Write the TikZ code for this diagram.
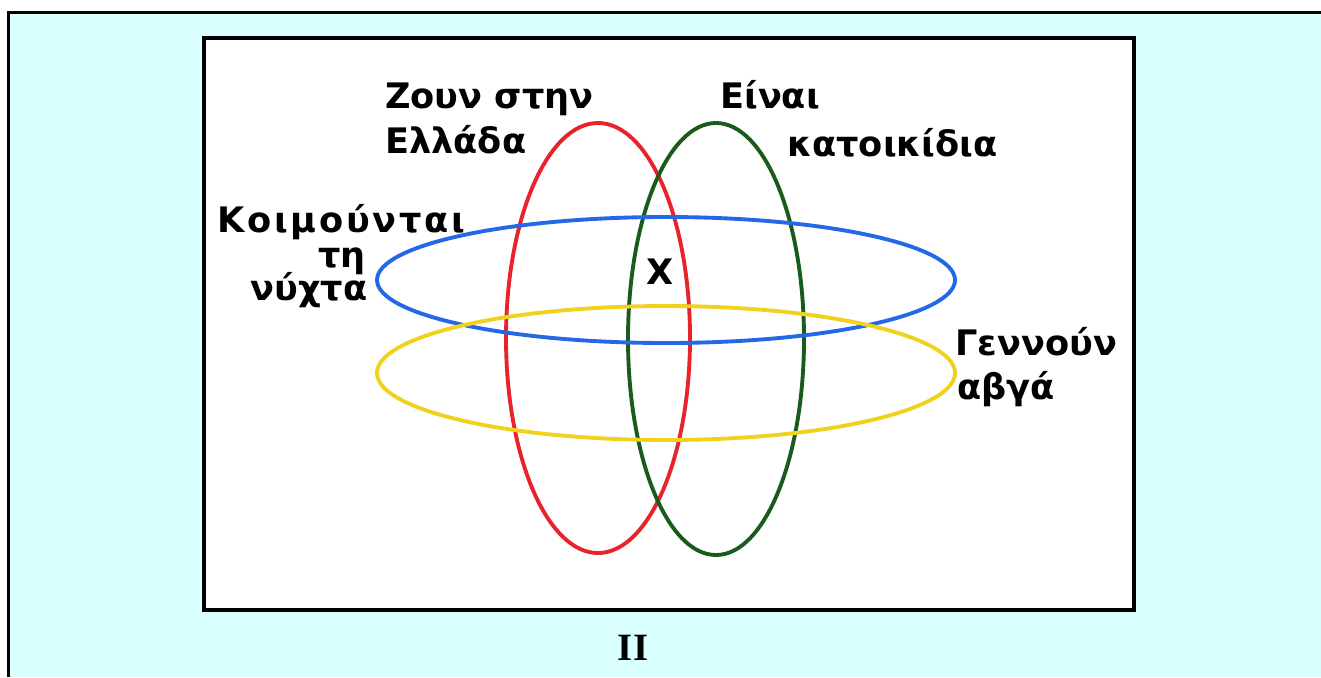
\documentclass[tikz,border=0pt]{standalone}
\usepackage{fontspec}
\setmainfont{DejaVu Sans}
\newfontfamily\romanfont{Liberation Serif}
\usepackage{tikz}
\usetikzlibrary{positioning}
\definecolor{sky}{HTML}{D9FFFF}
\definecolor{setred}{HTML}{E8232B}
\definecolor{setgreen}{HTML}{1A5A1A}
\definecolor{setblue}{HTML}{2468E8}
\definecolor{setyellow}{HTML}{F0D21E}

\begin{document}
\begin{tikzpicture}[x=0.02cm,y=-0.02cm,lbl/.style={font=\fontsize{20}{26}\selectfont\bfseries,inner sep=0pt},ring/.style={line width=2.2pt}]
\useasboundingbox (0,0) rectangle (1321,677);
\fill[sky] (8,12) rectangle (1321,677);\draw[line width=2pt] (8.5,677)--(8.5,12.5)--(1321,12.5);
\filldraw[fill=white,line width=2.5pt] (204,38) rectangle (1134,610);
\draw[ring,setred] (598,338) ellipse (92 and 215);\draw[ring,setgreen] (716,339) ellipse (88 and 216);
\draw[ring,setblue] (666,280) ellipse (289 and 63);\draw[ring,setyellow] (666,373) ellipse (289 and 67);
\node[lbl,anchor=base west] (zoun) at (385,108) {Ζουν στην};\node[lbl,anchor=base west] (ellada) at (385,153) {Ελλάδα};
\node[lbl,anchor=base west] (einai) at (720,108) {Είναι};\node[lbl,anchor=base west] (katoik) at (787,156) {κατοικίδια};
\node[lbl,anchor=base west,font=\fontsize{20}{26}\selectfont\bfseries\addfontfeature{LetterSpace=8}] (koim) at (217,232) {Κοιμούνται};
\node[lbl,anchor=base west] (ti) at (318,267) {τη};\node[lbl,anchor=base west] (nychta) at (250,300) {νύχτα};
\node[lbl,anchor=base west] (genn) at (955,355) {Γεννούν};\node[lbl,anchor=base west] (avga) at (957,399) {αβγά};
\node[lbl] (chi) at (660,272) {Χ};
\node[font=\romanfont\fontsize{22}{26}\selectfont\bfseries] (num) at (633,648) {II};
\end{tikzpicture}
\end{document}
